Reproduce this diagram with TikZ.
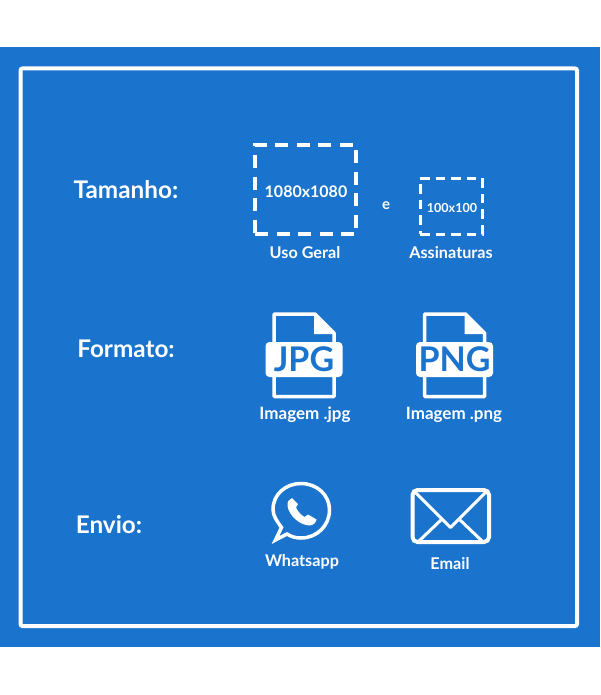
\documentclass[tikz,border=0pt]{standalone}
\usepackage{fontspec}
\setmainfont{Lato}
\usetikzlibrary{positioning,calc}
\definecolor{bluebg}{HTML}{1A73CC}

\begin{document}
\begin{tikzpicture}[
  x = 1pt,
  y = -1pt,
  inner sep = 0pt,
  outer sep = 0pt,
  heading/.style={text=white,font=\fontsize{24.3}{26}\selectfont\bfseries},
  caption/.style={text=white,font=\fontsize{16.2}{18}\selectfont\bfseries},
  capwide/.style={text=white,font=\fontsize{17}{19}\selectfont\bfseries},
  bigdash/.style={draw=white,line width=3.5pt,dash pattern=on 13pt off 8.5pt,
    minimum width=101pt,minimum height=89pt},
  smalldash/.style={draw=white,line width=3pt,dash pattern=on 9.5pt off 6pt,
    minimum width=62pt,minimum height=56pt},
  sizelabel/.style={text=white,font=\fontsize{16}{18}\selectfont\bfseries},
  banner/.style={fill=white,rounded corners=4pt,text=bluebg,minimum width=77pt,minimum height=35pt,
    font=\fontsize{34}{36}\selectfont\bfseries},
  outline/.style={draw=white,line width=3.5pt,line join=round},
  ]
  \useasboundingbox (0,0) rectangle (600,695);
  \fill [white] (0,0) rectangle (600,695);
  \fill [bluebg] (0,47) rectangle (600,647);
  \draw [white,line width=4pt,rounded corners=2pt] (20.5,68.5) rectangle (577,626);

  % size row
  \node [heading] (tamanho) at (126,190) {Tamanho:};
  \node [bigdash] (bigbox) at (305.5,189.5) {};
  \node [sizelabel] (bigsize) at (306,192) {1080x1080};
  \node [smalldash] (smallbox) at (451,206) {};
  \node [sizelabel,font=\fontsize{12.5}{14}\selectfont\bfseries] (smallsize) at (452,207.5) {100x100};
  \node [sizelabel,font=\fontsize{15}{17}\selectfont\bfseries] (conj) at (386,206) {e};
  \node [caption] (usogeral) at (305,252.5) {Uso Geral};
  \node [caption] (assinaturas) at (451,252.5) {Assinaturas};

  % format row
  \node [heading] (formato) at (126,349) {Formato:};
  \foreach \name/\cx/\ext in {jpg/304/JPG,png/454.5/PNG} {
    \draw [outline] (\cx-30,396.5) -- (\cx-30,314) -- (\cx+11,314) -- (\cx+30,333) -- (\cx+30,396.5) -- cycle;
    \fill [white] (\cx+10,313) -- (\cx+31,334) -- (\cx+10,334) -- cycle;
    \node [banner] (\name) at (\cx,359.5) {\ext};
  }
  \node [capwide] (imgjpg) at (305,414.5) {Imagem .jpg};
  \node [capwide] (imgpng) at (454,414.5) {Imagem .png};

  % delivery row
  \node [heading] (envio) at (109,525) {Envio:};
  \draw [outline,line join=miter,miter limit=6] (275.5,540) -- (281.5,527.5)
    .. controls (277,521) and (273,516) .. (273,509.5)
    .. controls (273,494) and (286,483.5) .. (301,483.5)
    .. controls (317,483.5) and (329.5,495) .. (329.5,510)
    .. controls (329.5,525.5) and (317,538) .. (301,538)
    .. controls (295,538) and (291,536.5) .. (287,534) -- cycle;
  \fill [white] (292,498)
    .. controls (289,499) and (287,502) .. (287.5,506)
    .. controls (289,516) and (300,525) .. (309,525.5)
    .. controls (313,525.5) and (316,523) .. (316.5,519.5)
    -- (308,514.5) -- (304.5,517)
    .. controls (301,515) and (297.5,511) .. (296,507.5)
    -- (298,504) -- cycle;
  \draw [white,line width=4pt,rounded corners=5pt] (412.5,490) rectangle (489,542);
  \draw [white,line width=3pt,line join=round] (414,491) -- (450.5,527.5) -- (487,491);
  \draw [white,line width=3pt] (442,519) -- (419,541) (459,519) -- (482,541);
  \node [caption] (whatsapp) at (302,561.5) {Whatsapp};
  \node [caption] (email) at (450,563.5) {Email};
\end{tikzpicture}
\end{document}
